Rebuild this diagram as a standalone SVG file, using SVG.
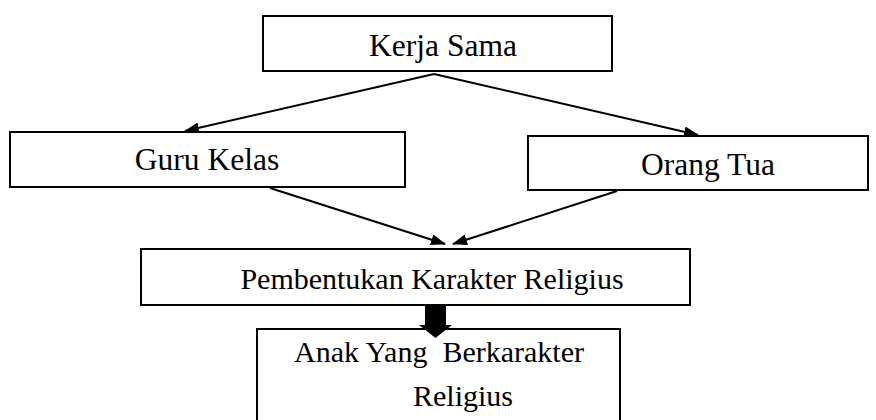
<svg xmlns="http://www.w3.org/2000/svg" width="876" height="420" viewBox="0 0 876 420">
<style>
.box{fill:#fff;stroke:#000;stroke-width:2}
.t{font-family:'Liberation Serif','Times New Roman',Times,serif;font-size:30px;fill:#000;text-anchor:middle}
.big{font-size:31.5px}
.c{stroke:#000;stroke-width:2;fill:none}
</style>
<defs>
<marker id="ah" markerWidth="15" markerHeight="11" refX="14" refY="5.5" orient="auto" markerUnits="userSpaceOnUse" viewBox="0 0 15 11">
<path d="M0,0 L15,5.5 L0,11 z" fill="#000"/>
</marker>
</defs>
<g id="kerja-sama"><rect class="box" x="263" y="16" width="349" height="55"/><text class="t big" x="443" y="56">Kerja Sama</text></g>
<g id="guru-kelas"><rect class="box" x="10" y="132" width="395" height="55"/><text class="t big" x="207" y="170">Guru Kelas</text></g>
<g id="orang-tua"><rect class="box" x="528" y="136" width="340" height="54"/><text class="t big" x="708" y="175">Orang Tua</text></g>
<g id="pembentukan"><rect class="box" x="141" y="249" width="549" height="56"/><text class="t" x="432" y="289">Pembentukan Karakter Religius</text></g>
<g id="anak"><rect class="box" x="257" y="329" width="363" height="100"/><text class="t" x="439" y="362" xml:space="preserve">Anak Yang  Berkarakter</text><text class="t" x="463" y="406">Religius</text></g>
<g id="connectors">
<path class="c" d="M434,74 L185,131" marker-end="url(#ah)"/>
<path class="c" d="M434,74 L698,135" marker-end="url(#ah)"/>
<path class="c" d="M270,188 L445,244" marker-end="url(#ah)"/>
<path class="c" d="M617,191 L453,244" marker-end="url(#ah)"/>
<path d="M425,305 L446,305 L446,325 L452,325 L435.5,338 L419,325 L425,325 z" fill="#000"/>
</g>
</svg>
